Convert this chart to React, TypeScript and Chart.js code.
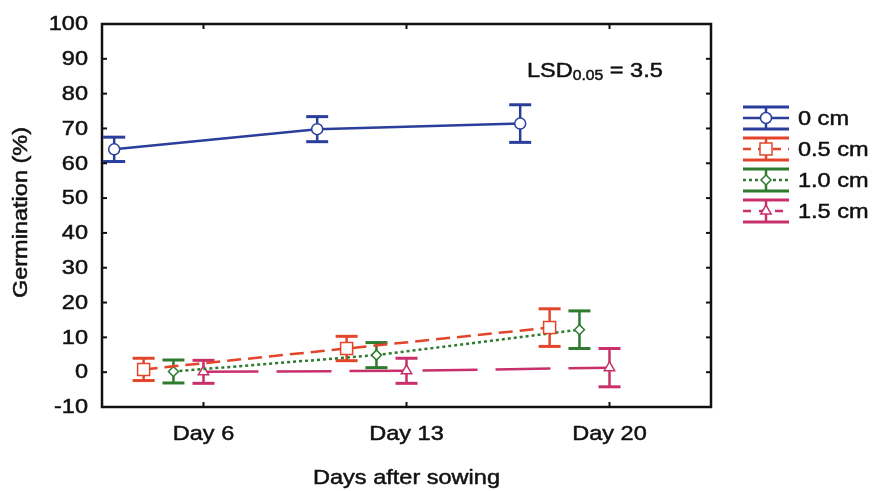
import React, { useEffect, useRef } from 'react';
import { Chart, registerables } from 'chart.js';
import { drawPoint } from 'chart.js/helpers';

Chart.register(...registerables);

// Sampling days on the x axis
const dayLabels = ['Day 6', 'Day 13', 'Day 20'];
const dayPositions = [1, 2, 3];

// Sowing depths (series)
const depthLabels = ['0 cm', '0.5 cm', '1.0 cm', '1.5 cm'];

// Mean germination (%) per day, and the half-width of each error bar
const mean0cm = [64, 69.8, 71.4];
const err0cm = [3.5, 3.6, 5.4];
const mean05cm = [0.8, 6.8, 12.8];
const err05cm = [3.2, 3.5, 5.4];
const mean10cm = [0.2, 4.9, 12.2];
const err10cm = [3.3, 3.6, 5.4];
const mean15cm = [0.1, 0.4, 1.3];
const err15cm = [3.3, 3.6, 5.5];

// Y axis range and step
const yMin = -10;
const yMax = 100;
const yStep = 10;

const lsdLabel = 'LSD';
const lsdSub = '0.05';
const lsdValue = ' = 3.5';

const xTitle = 'Days after sowing';
const yTitle = 'Germination (%)';

const FONT = '"Liberation Sans", Arial, Helvetica, sans-serif';
const TEXT = '#111111';
const WIDEN = 1.12; // glyphs are drawn slightly widened

const means = [mean0cm, mean05cm, mean10cm, mean15cm];
const errs = [err0cm, err05cm, err10cm, err15cm];

// Look of each depth series
const styles = [
  { color: '#2a3f9c', dash: [] as number[], point: 'circle', radius: 5.5 },
  { color: '#e2452a', dash: [14, 7], point: 'rect', radius: 8.5 },
  { color: '#2e7a2e', dash: [3, 3], point: 'rectRot', radius: 5 },
  { color: '#c8306b', dash: [55, 18], point: 'triangle', radius: 6 },
];
// horizontal dodge of each depth around its day
const dodge = [-0.44, -0.295, -0.148, 0];

const CAP = 11;

function line(ctx: CanvasRenderingContext2D, x1: number, y1: number, x2: number, y2: number) {
  ctx.beginPath();
  ctx.moveTo(x1, y1);
  ctx.lineTo(x2, y2);
  ctx.stroke();
}

function text(
  ctx: CanvasRenderingContext2D,
  str: string,
  x: number,
  y: number,
  size: number,
  align: CanvasTextAlign,
  baseline: CanvasTextBaseline,
  rotate = false
) {
  ctx.save();
  ctx.translate(x, y);
  if (rotate) ctx.rotate(-Math.PI / 2);
  ctx.scale(WIDEN, 1);
  ctx.font = `${size}px ${FONT}`;
  ctx.textAlign = align;
  ctx.textBaseline = baseline;
  ctx.fillStyle = TEXT;
  ctx.strokeStyle = TEXT;
  ctx.lineWidth = 0.5;
  ctx.setLineDash([]);
  ctx.fillText(str, 0, 0);
  ctx.strokeText(str, 0, 0);
  ctx.restore();
  ctx.font = `${size}px ${FONT}`;
  return ctx.measureText(str).width * WIDEN;
}

const errorBars = {
  id: 'errorBars',
  beforeDatasetsDraw(chart: any) {
    const { ctx } = chart;
    const y = chart.scales.y;
    chart.data.datasets.forEach((ds: any, di: number) => {
      const meta = chart.getDatasetMeta(di);
      ctx.save();
      ctx.strokeStyle = ds.borderColor;
      ctx.setLineDash([]);
      ctx.lineCap = 'butt';
      meta.data.forEach((pt: any, i: number) => {
        const raw = ds.data[i];
        const top = y.getPixelForValue(raw.y + raw.err);
        const bot = y.getPixelForValue(raw.y - raw.err);
        ctx.lineWidth = 2.5;
        line(ctx, pt.x, top, pt.x, bot);
        ctx.lineWidth = 3;
        line(ctx, pt.x - CAP, top, pt.x + CAP, top);
        line(ctx, pt.x - CAP, bot, pt.x + CAP, bot);
      });
      ctx.restore();
    });
  },
};

const frameAndText = {
  id: 'frameAndText',
  afterDraw(chart: any) {
    const { ctx, chartArea: a } = chart;
    const xs = chart.scales.x;
    const ys = chart.scales.y;
    ctx.save();
    ctx.strokeStyle = TEXT;
    ctx.setLineDash([]);

    // box
    ctx.lineWidth = 2.5;
    ctx.strokeRect(a.left, a.top, a.right - a.left, a.bottom - a.top);

    // inward tick marks on all four sides, with their labels outside
    ctx.lineWidth = 2;
    ys.ticks.forEach((t: any) => {
      const py = ys.getPixelForValue(t.value);
      ctx.strokeStyle = TEXT;
      line(ctx, a.left, py, a.left + 5, py);
      line(ctx, a.right, py, a.right - 5, py);
      text(ctx, String(t.value), a.left - 14, py + 0.5, 21, 'right', 'middle');
    });
    xs.ticks.forEach((t: any, i: number) => {
      const px = xs.getPixelForValue(t.value);
      ctx.strokeStyle = TEXT;
      ctx.lineWidth = 2;
      line(ctx, px, a.bottom, px, a.bottom - 5);
      line(ctx, px, a.top, px, a.top + 5);
      text(ctx, dayLabels[i], px, 440, 21, 'center', 'alphabetic');
    });

    // axis titles
    text(ctx, xTitle, (a.left + a.right) / 2, 484, 21, 'center', 'alphabetic');
    text(ctx, yTitle, 27, (a.top + a.bottom) / 2 - 3, 21, 'center', 'alphabetic', true);

    // LSD annotation
    let lx = 527;
    lx += text(ctx, lsdLabel, lx, 77, 21, 'left', 'alphabetic');
    lx += text(ctx, lsdSub, lx, 80, 14, 'left', 'alphabetic');
    text(ctx, lsdValue, lx, 77, 21, 'left', 'alphabetic');

    // legend
    const cx = 766;
    const hw = 23;
    depthLabels.forEach((label, s) => {
      const st = styles[s];
      const cy = 118 + 31 * s;
      ctx.strokeStyle = st.color;
      ctx.setLineDash([]);
      ctx.lineWidth = 3;
      line(ctx, cx - hw, cy - 11, cx + hw, cy - 11);
      line(ctx, cx - hw, cy + 11, cx + hw, cy + 11);
      ctx.lineWidth = 2.5;
      line(ctx, cx, cy - 11, cx, cy + 11);
      ctx.setLineDash(st.dash.map((d) => Math.min(d, 8)));
      line(ctx, cx - hw, cy, cx + hw, cy);
      ctx.setLineDash([]);
      ctx.fillStyle = '#ffffff';
      ctx.lineWidth = 1.5;
      drawPoint(ctx, { pointStyle: st.point as any, radius: st.radius, rotation: 0, borderWidth: 1.5 }, cx, cy);
      text(ctx, label, 798, cy + 1, 21, 'left', 'middle');
    });
    ctx.restore();
  },
};

export default function App() {
  const ref = useRef<HTMLCanvasElement>(null);

  useEffect(() => {
    const datasets = depthLabels.map((label, s) => ({
      label,
      data: dayPositions.map((p, i) => ({ x: p + dodge[s], y: means[s][i], err: errs[s][i] })),
      borderColor: styles[s].color,
      backgroundColor: styles[s].color,
      borderWidth: 2.5,
      borderDash: styles[s].dash,
      borderCapStyle: 'butt' as const,
      pointStyle: styles[s].point as any,
      pointRadius: styles[s].radius,
      pointBackgroundColor: '#ffffff',
      pointBorderColor: styles[s].color,
      pointBorderWidth: 1.5,
      tension: 0,
    }));

    const chart = new Chart(ref.current as HTMLCanvasElement, {
      type: 'line',
      data: { datasets },
      options: {
        animation: false,
        responsive: false,
        devicePixelRatio: 1,
        layout: { padding: { left: 0, right: 162, top: 24, bottom: 0 } },
        plugins: { legend: { display: false }, tooltip: { enabled: false } },
        scales: {
          x: {
            type: 'linear',
            min: 0.5,
            max: 3.5,
            afterBuildTicks: (scale: any) => {
              scale.ticks = dayPositions.map((v) => ({ value: v }));
            },
            afterFit: (scale: any) => {
              scale.height = 84;
            },
            grid: { display: false, drawTicks: false },
            border: { display: false },
            ticks: { display: false },
          },
          y: {
            min: yMin,
            max: yMax,
            afterFit: (scale: any) => {
              scale.width = 102;
            },
            grid: { display: false, drawTicks: false },
            border: { display: false },
            ticks: { display: false, stepSize: yStep },
          },
        },
      },
      plugins: [errorBars, frameAndText],
    });
    return () => chart.destroy();
  }, []);

  return (
    <div style={{ position: 'fixed', left: 0, top: 0, width: 873, height: 491, background: '#ffffff' }}>
      <canvas ref={ref} width={873} height={491} style={{ display: 'block', width: 873, height: 491 }} />
    </div>
  );
}
